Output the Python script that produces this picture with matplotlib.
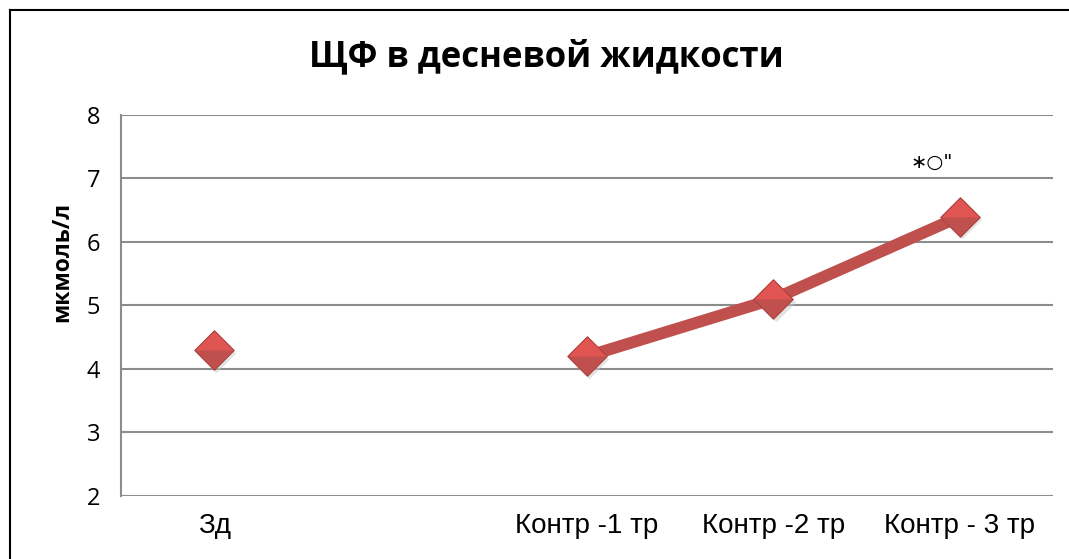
import numpy as np
import matplotlib.pyplot as plt
from matplotlib.path import Path
from matplotlib.lines import Line2D

# data
categories = ["Зд", "", "Контр -1 тр", "Контр -2 тр", "Контр - 3 тр"]
values = [4.3, np.nan, 4.2, 5.1, 6.4]
note = "∗○\""

red = "#C0504D"
red_light = "#E05552"
red_dark = "#A8403D"

fig = plt.figure(figsize=(10.69, 5.59), dpi=100)
ax = fig.add_axes([0.1132, 0.1127, 0.8718, 0.6816])

x = np.arange(len(categories))
y = np.array(values, dtype=float)

# line (breaks at the empty category)
ax.plot(x, y, color=red, lw=8.5, solid_capstyle="butt", zorder=3)

# diamond markers with a simple 3D look
diamond = Path([(-1, 0), (0, 1), (1, 0), (0, -1), (-1, 0)], closed=True)
top_half = Path([(-1, 0), (0, 1), (1, 0), (-1, 0)], closed=True)
ms = 28.5
ax.plot(x + 0.012, y - 0.045, ls="none", marker=diamond, ms=ms,
        mfc="#c8c8c8", mec="none", alpha=0.5, zorder=4)
ax.plot(x, y, ls="none", marker=diamond, ms=ms, mfc=red, mec="none", zorder=5)
ax.plot(x, y, ls="none", marker=top_half, ms=ms, mfc=red_light, mec="none", zorder=6)
ax.plot(x, y, ls="none", marker=diamond, ms=ms, mfc="none", mec=red_dark,
        mew=0.7, zorder=7)

ax.annotate(note, xy=(4, values[4]), xytext=(-20, 39), textcoords="offset points",
            ha="center", va="center", fontsize=14, family="DejaVu Sans")

ax.set_xlim(-0.5, len(categories) - 0.5)
ax.set_ylim(2, 8)
ax.set_yticks(range(2, 9))
ax.set_xticks(x)
ax.set_xticklabels(categories, family="Liberation Sans", fontsize=20)
for lab in ax.get_yticklabels():
    lab.set_family("Open Sans")
    lab.set_fontsize(17)
ax.tick_params(axis="both", length=0)
ax.tick_params(axis="x", pad=12)
ax.tick_params(axis="y", pad=15)

ax.grid(axis="y", color="#8c8c8c", lw=1.5)
ax.set_axisbelow(True)
for s in ["top", "right", "bottom"]:
    ax.spines[s].set_visible(False)
ax.spines["left"].set_color("#8c8c8c")
ax.spines["left"].set_linewidth(1.5)

fig.text(62 / 1069, 1 - 262 / 559, "мкмоль/л", rotation=90, ha="center", va="center",
         family="Open Sans", fontweight="bold", fontsize=16.5)

fig.text(0.511, 0.897, "ЩФ в десневой жидкости", ha="center", va="center",
         family="Open Sans", fontweight="bold", fontsize=25)

# outer chart frame (only top and left visible)
fig.add_artist(Line2D([10 / 1069, 1.0], [1 - 10 / 559] * 2, color="black", lw=1.5,
                      transform=fig.transFigure))
fig.add_artist(Line2D([10 / 1069] * 2, [0, 1 - 10 / 559], color="black", lw=1.5,
                      transform=fig.transFigure))

fig.savefig("out.png", dpi=100)
